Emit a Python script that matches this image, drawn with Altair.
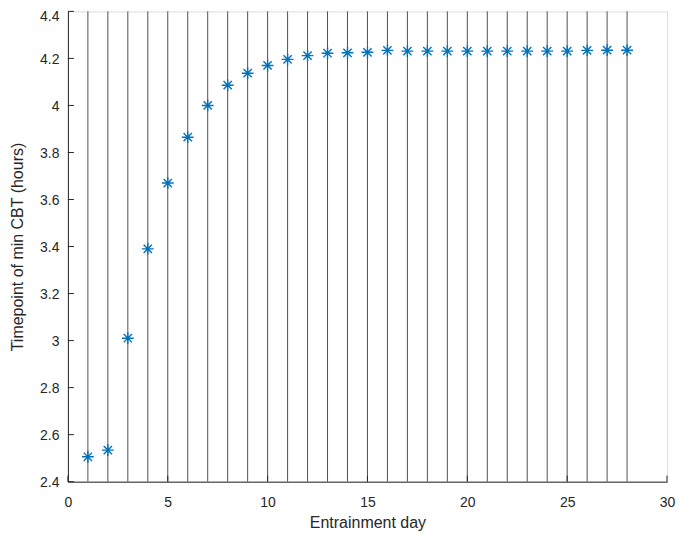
import altair as alt
import pandas as pd

days = list(range(1, 29))
min_cbt = [2.506, 2.534, 3.01, 3.39, 3.67, 3.865, 4.0, 4.086, 4.137, 4.17,
           4.196, 4.212, 4.222, 4.224, 4.226, 4.234, 4.231, 4.231, 4.231, 4.231,
           4.231, 4.231, 4.231, 4.231, 4.231, 4.234, 4.235, 4.235]
x_ticks = [0, 5, 10, 15, 20, 25, 30]
y_ticks = [2.4, 2.6, 2.8, 3.0, 3.2, 3.4, 3.6, 3.8, 4.0, 4.2, 4.4]

df = pd.DataFrame({"day": days, "cbt": min_cbt})
dfx = pd.DataFrame({"t": x_ticks})
dfy = pd.DataFrame({"t": y_ticks})

W, H = 600, 471
axis_col = "#262626"
font = "Liberation Sans"

xs = alt.Scale(domain=[0, 30], nice=False)
ys = alt.Scale(domain=[2.4, 4.4], nice=False)

x_axis = alt.Axis(values=x_ticks, tickSize=0, labelPadding=14, grid=False,
                  labelFlush=False, labelOverlap=False,
                  domainColor=axis_col, labelColor=axis_col, labelFontSize=14,
                  labelFont=font, title="Entrainment day", titleFont=font,
                  titleFontSize=16, titleFontWeight="normal", titleColor=axis_col,
                  titlePadding=5)
y_axis = alt.Axis(values=y_ticks, tickSize=0, labelPadding=9, grid=False,
                  labelFlush=False, labelOverlap=False,
                  labelOffset={"condition": {"test": "datum.value >= 4.39", "value": 5},
                               "value": 1},
                  domainColor=axis_col, labelColor=axis_col, labelFontSize=14,
                  labelFont=font, title="Timepoint of min CBT (hours)",
                  titleFont=font, titleFontSize=16, titleFontWeight="normal",
                  titleColor=axis_col, titlePadding=14,
                  labelExpr="datum.value == 3 ? '3' : datum.value == 4 ? '4' : datum.label")

vlines = alt.Chart(df).mark_rule(color="#505050", strokeWidth=1).encode(
    x=alt.X("day:Q", scale=xs, axis=x_axis),
    y=alt.value(0), y2=alt.value(H))

yt = alt.Chart(dfy).mark_rule(color=axis_col, strokeWidth=1).encode(
    y=alt.Y("t:Q", scale=ys, axis=y_axis),
    x=alt.value(0), x2=alt.value(6))

xt = alt.Chart(dfx).mark_rule(color=axis_col, strokeWidth=1).encode(
    x=alt.X("t:Q", scale=xs),
    y=alt.value(H), y2=alt.value(H - 6))

star = "M-1,0L1,0M0,-1L0,1M-0.7,-0.7L0.7,0.7M-0.7,0.7L0.7,-0.7"
pts = alt.Chart(df).mark_point(shape=star, filled=False, size=140,
                               color="#0072BD", strokeWidth=1.4, opacity=1).encode(
    x=alt.X("day:Q", scale=xs),
    y=alt.Y("cbt:Q", scale=ys))

chart = alt.layer(vlines, yt, xt, pts).properties(
    width=W, height=H,
    autosize=alt.AutoSizeParams(type="none"),
    padding={"left": 60, "top": 3, "right": 10, "bottom": 50},
).configure_view(stroke=None).configure(background="white")

chart.save("out.html", embed_options={"renderer": "svg", "actions": False})
